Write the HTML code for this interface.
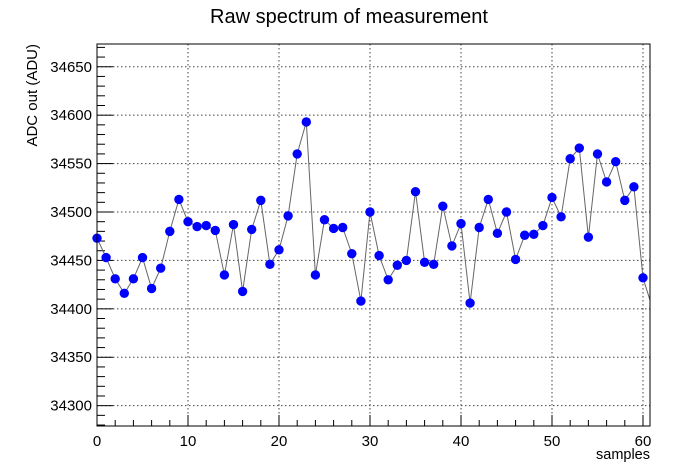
<!DOCTYPE html>
<html><head><meta charset="utf-8"><style>
html,body{margin:0;padding:0;background:#fff;}
svg{display:block;font-family:"Liberation Sans",Arial,sans-serif;}
</style></head><body>
<svg id="chart" width="698" height="475" viewBox="0 0 698 475" xmlns="http://www.w3.org/2000/svg">
<text x="349" y="23" text-anchor="middle" font-size="20">Raw spectrum of measurement</text>
<text transform="translate(37,44) rotate(-90)" text-anchor="end" font-size="15">ADC out (ADU)</text>
<text x="650" y="459" text-anchor="end" font-size="14.5">samples</text>
<g id="grid"></g>
<g id="axes"></g>
<g id="series"></g>
<rect x="97" y="44" width="553" height="382" fill="none" stroke="#000" stroke-width="1"/>
</svg>
<script>
const values = [34473,34453,34431,34416,34431,34453,34421,34442,34480,34513,34490,34485,34486,34481,34435,34487,34418,34482,34512,34446,34461,34496,34560,34593,34435,34492,34483,34484,34457,34408,34500,34455,34430,34445,34450,34521,34448,34446,34506,34465,34488,34406,34484,34513,34478,34500,34451,34476,34477,34486,34515,34495,34555,34566,34474,34560,34531,34552,34512,34526,34432,34402];
const xTicks = [0,10,20,30,40,50,60];
const yTicks = [34300,34350,34400,34450,34500,34550,34600,34650];

const L=97,R=650,T=44,B=426;
const xMin=0, xMax=60.77, yMin=34279, yMax=34673.5;
const X=v=>L+(v-xMin)/(xMax-xMin)*(R-L);
const Y=v=>B-(v-yMin)/(yMax-yMin)*(B-T);
const NS="http://www.w3.org/2000/svg";
function mk(tag,attrs,parent){const e=document.createElementNS(NS,tag);for(const k in attrs)e.setAttribute(k,attrs[k]);parent.appendChild(e);return e;}
const grid=document.getElementById('grid'),axes=document.getElementById('axes'),series=document.getElementById('series');

xTicks.forEach(t=>{
  if(t>0){const g=mk('line',{x1:X(t),x2:X(t),y1:T,y2:B,stroke:'#444','stroke-dasharray':'1.5,2.5','stroke-width':1},grid);
  
  }
  const tl=mk('text',{x:X(t),y:B+20,'text-anchor':'middle','font-size':15},axes);
  tl.textContent=t;
  
  
});
for(let t=0;t<=60;t+=2){
  const big=t%10===0;
  const tk=mk('line',{x1:X(t),x2:X(t),y1:B,y2:B-(big?11:6),stroke:'#000'},axes);
  
  
}
yTicks.forEach(t=>{
  const g=mk('line',{x1:L,x2:R,y1:Y(t),y2:Y(t),stroke:'#444','stroke-dasharray':'1.5,2.5','stroke-width':1},grid);
  
  
  const tl=mk('text',{x:L-5,y:Y(t)+5,'text-anchor':'end','font-size':15},axes);
  tl.textContent=t;
  
  
});
for(let t=34280;t<=34670;t+=10){
  const big=t%50===0;
  const tk=mk('line',{x1:L,x2:L+(big?16:8),y1:Y(t),y2:Y(t),stroke:'#000'},axes);
  
  
}
const defs=mk('clipPath',{id:'clip'},series);mk('rect',{x:L,y:T,width:R-L,height:B-T},defs);
const pts=values.map((v,i)=>X(i)+','+Y(v)).join(' ');
const line=mk('polyline',{points:pts,fill:'none',stroke:'#666','stroke-width':1,'clip-path':'url(#clip)'},series);


values.forEach((v,i)=>{
  if(X(i)>R) return;
  const c=mk('circle',{cx:X(i),cy:Y(v),r:4.7,fill:'#0000ff'},series);
  
  
});
</script>
</body></html>
